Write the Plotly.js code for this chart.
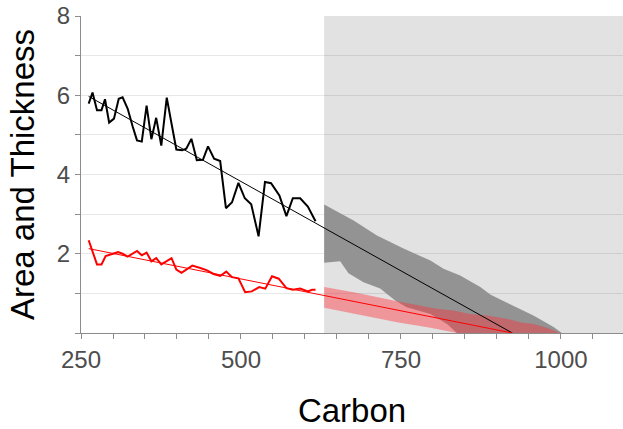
<!DOCTYPE html>
<html>
<head>
<meta charset="utf-8">
<script src="https://cdn.plot.ly/plotly-3.0.1.min.js"></script>
<style>html,body{margin:0;padding:0;background:#fff}#chart{width:623px;height:429px}</style>
</head>
<body>
<div id="chart"></div>
<script>
// ---- data ----
const areaX = [262,268,275,282,287.5,294,301.5,309,315,323,331,337.5,345,352.5,360,367.5,375.5,384,391.5,399,408,414.5,422.5,431,440.5,448.5,458,467.5,476.5,486,496,506,516,527.5,537.5,547,560,571,581,592.5,604.5,616.5];
const area  = [5.79,6.07,5.62,5.62,5.90,5.31,5.41,5.91,5.95,5.66,5.20,4.86,4.83,5.74,4.89,5.43,4.73,5.94,5.28,4.63,4.61,4.65,4.90,4.36,4.37,4.71,4.40,4.34,3.15,3.30,3.79,3.40,3.25,2.44,3.81,3.78,3.47,2.95,3.40,3.40,3.19,2.82];

const thickX = [262,275,282,288.5,296,308,315,323,337.5,345,352.5,360,367.5,375.5,391.5,399,407,415.5,424,436.5,447,457,467.5,477,486,496,506.5,517,528.5,538,548.5,559,571,581,592.5,604.5,611,616.5];
const thick  = [2.34,1.73,1.73,1.94,1.98,2.04,2.00,1.93,2.07,1.96,2.03,1.81,1.89,1.73,1.89,1.60,1.52,1.62,1.70,1.64,1.58,1.49,1.44,1.55,1.41,1.38,1.03,1.05,1.16,1.12,1.43,1.37,1.13,1.09,1.12,1.05,1.09,1.09];

// fitted trend lines (start, end)
const fitX = [262, 924];
const fitArea = [5.97, 0];
const fitThick = [2.13, 0];

// projection start
const projStart = 630;
const projEnd = 1100;

// projected area band: upper edge then lower edge (reversed)
const areaBandUpperX = [630,676,712.5,754,796,816.5,842.5,874,889.5,926,957,988.5,1001.5];
const areaBandUpper  = [3.24,2.84,2.46,2.13,1.83,1.62,1.45,1.16,0.97,0.69,0.44,0.15,0.0];
const areaBandLowerX = [630,655,668,691.5,717.5,741,759,796,822,837.5,1001.5];
const areaBandLower  = [1.77,1.81,1.51,1.28,1.12,0.82,0.65,0.48,0.23,0.0,0.0];

// projected thickness band
const thickBandUpperX = [630,676,744,780,806,832,858,884,915.5,936,957,978,999];
const thickBandUpper  = [1.16,1.03,0.80,0.69,0.61,0.57,0.48,0.44,0.36,0.27,0.23,0.13,0.0];
const thickBandLowerX = [630,676,744,796,837.5,999];
const thickBandLower  = [0.64,0.48,0.27,0.13,0.0,0.0];

const xTicks = [250,300,350,400,450,500,550,600,650,700,750,800,850,900,950,1000,1050];
const xTickText = xTicks.map(v => v % 250 === 0 ? String(v) : '');
const yTicks = [0,1,2,3,4,5,6,7,8];
const yTickText = yTicks.map(v => (v > 0 && v % 2 === 0) ? String(v) : '');

function band(ux, uy, lx, ly) {
  return {
    x: ux.concat(lx.slice().reverse()),
    y: uy.concat(ly.slice().reverse())
  };
}
const aB = band(areaBandUpperX, areaBandUpper, areaBandLowerX, areaBandLower);
const tB = band(thickBandUpperX, thickBandUpper, thickBandLowerX, thickBandLower);

const traces = [
  {x: aB.x, y: aB.y, type: 'scatter', mode: 'lines', fill: 'toself',
   fillcolor: 'rgb(147,147,147)', line: {width: 0}, hoverinfo: 'skip', showlegend: false},
  {x: tB.x, y: tB.y, type: 'scatter', mode: 'lines', fill: 'toself',
   fillcolor: 'rgba(255,45,55,0.42)', line: {width: 0}, hoverinfo: 'skip', showlegend: false},
  {x: fitX, y: fitArea, type: 'scatter', mode: 'lines', line: {color: '#000', width: 1}, showlegend: false},
  {x: fitX, y: fitThick, type: 'scatter', mode: 'lines', line: {color: '#ff0000', width: 1}, showlegend: false},
  {x: areaX, y: area, type: 'scatter', mode: 'lines', line: {color: '#000', width: 2}, showlegend: false},
  {x: thickX, y: thick, type: 'scatter', mode: 'lines', line: {color: '#ff0000', width: 2}, showlegend: false}
];

const axisCommon = {
  showline: true, linecolor: '#8c8c8c', linewidth: 1,
  ticks: 'outside', ticklen: 5, tickcolor: '#8c8c8c', tickwidth: 1,
  zeroline: false, tickmode: 'array',
  tickfont: {family: 'Liberation Sans, Arial, sans-serif', size: 24, color: '#4d4d4d'}
};

const layout = {
  width: 623, height: 429,
  margin: {l: 81, r: 0, t: 16, b: 96},
  paper_bgcolor: '#fff', plot_bgcolor: '#fff',
  showlegend: false,
  xaxis: Object.assign({}, axisCommon, {
    range: [250, 1097], tickvals: xTicks, ticktext: xTickText, showgrid: false,
    title: {text: 'Carbon', standoff: 33, font: {family: 'Liberation Sans, Arial, sans-serif', size: 33, color: '#000'}}
  }),
  yaxis: Object.assign({}, axisCommon, {
    range: [0, 8], tickvals: yTicks, ticktext: yTickText,
    showgrid: true, gridcolor: 'rgba(0,0,0,0.09)', gridwidth: 1,
    title: {text: 'Area and Thickness', standoff: 12, font: {family: 'Liberation Sans, Arial, sans-serif', size: 33, color: '#000'}}
  }),
  shapes: [
    {type: 'rect', xref: 'x', yref: 'y', x0: projStart, x1: projEnd, y0: 0, y1: 8,
     fillcolor: '#e2e2e2', line: {width: 0}, layer: 'below'}
  ]
};

Plotly.newPlot('chart', traces, layout, {displayModeBar: false, staticPlot: true});
</script>
</body>
</html>
